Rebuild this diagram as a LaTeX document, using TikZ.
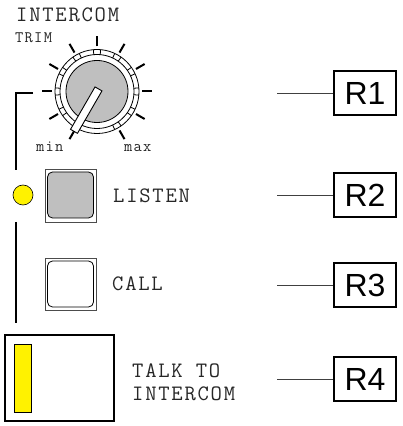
\documentclass[tikz,border=0pt]{standalone}
\usepackage{fontspec}
\setsansfont{Liberation Sans}
\newfontfamily\panelfont[LetterSpace=8]{Latin Modern Mono}
\usetikzlibrary{positioning}

\begin{document}
\begin{tikzpicture}[%
x=1pt, y=1pt,
panel/.style={font=\panelfont\fontsize{22}{24}\selectfont, text=black!85, inner sep=0pt, anchor=base west},
small/.style={font=\panelfont\fontsize{16}{18}\selectfont, text=black!85, inner sep=0pt, anchor=base west},
rbox/.style={draw, line width=1.8pt, minimum width=62pt, minimum height=44pt, inner sep=0pt, font=\sffamily\fontsize{32}{34}\selectfont},
lead/.style={draw=black!75, line width=0.9pt},
]
\useasboundingbox (0,0) rectangle (403,426);
%% labels;
\node[panel] (title) at (16,404) {INTERCOM};
\node[small] (trim) at (15,383) {TRIM};
\node[small] (min) at (36,274) {min};
\node[small] (max) at (124,274) {max};
%% knob;
\coordinate (knob) at (97,334.5);
\begin{scope}[shift={(knob)}]
\foreach \a in {-60,-30,...,240} {
  \draw[line width=2pt] (\a:45) -- (\a:55);
  \draw[line width=0.8pt] (\a-5:37) -- (\a-5:42);
  \draw[line width=0.8pt] (\a+5:37) -- (\a+5:42);
}
\draw[line width=0.8pt] (0,0) circle (42);
\draw[line width=0.8pt] (0,0) circle (37);
\draw[line width=0.8pt, fill=black!25] (0,0) circle (31);
%% pointer;
\draw[line width=0.9pt, fill=white, rotate=240] (-3,-4) rectangle (46,4);
\end{scope}
%% side line;
\draw[line width=2pt] (33,333) -- (16,333) -- (16,256);
\draw[line width=2pt] (16,204) -- (16,103);
\node[draw, fill=yellow, circle, minimum size=20pt, inner sep=0pt, line width=0.6pt] (led) at (23,231) {};
%% listen button;
\draw[draw=black!70, line width=0.8pt] (45,204) rectangle (96,257);
\draw[line width=0.8pt, fill=black!25, rounded corners=5pt] (47.5,208) rectangle (93.5,254);
\node[panel] (listen) at (113,223) {LISTEN};
%% call button;
\draw[draw=black!70, line width=0.8pt] (45,116) rectangle (96,168);
\draw[line width=0.8pt, fill=white, rounded corners=5pt] (47.5,119) rectangle (93.5,165);
\node[panel] (call) at (112,135) {CALL};
%% talk button;
\draw[line width=1.6pt] (5,5) rectangle (114,91);
\draw[line width=0.8pt, fill=yellow] (14,14) rectangle (31,82);
\node[panel] (talk) at (132,48) {TALK TO};
\node[panel] (talk2) at (132,25) {INTERCOM};
%% references;
\node[rbox] (r1) at (365,333) {R1};
\node[rbox] (r2) at (365,231) {R2};
\node[rbox] (r3) at (365,141) {R3};
\node[rbox] (r4) at (365,47) {R4};
\coordinate (c1) at (277,333);
\coordinate (c2) at (277,231);
\coordinate (c3) at (277,141);
\coordinate (c4) at (277,47);
\draw[lead] (c1) -- (r1);
\draw[lead] (c2) -- (r2);
\draw[lead] (c3) -- (r3);
\draw[lead] (c4) -- (r4);
\end{tikzpicture}
\end{document}
